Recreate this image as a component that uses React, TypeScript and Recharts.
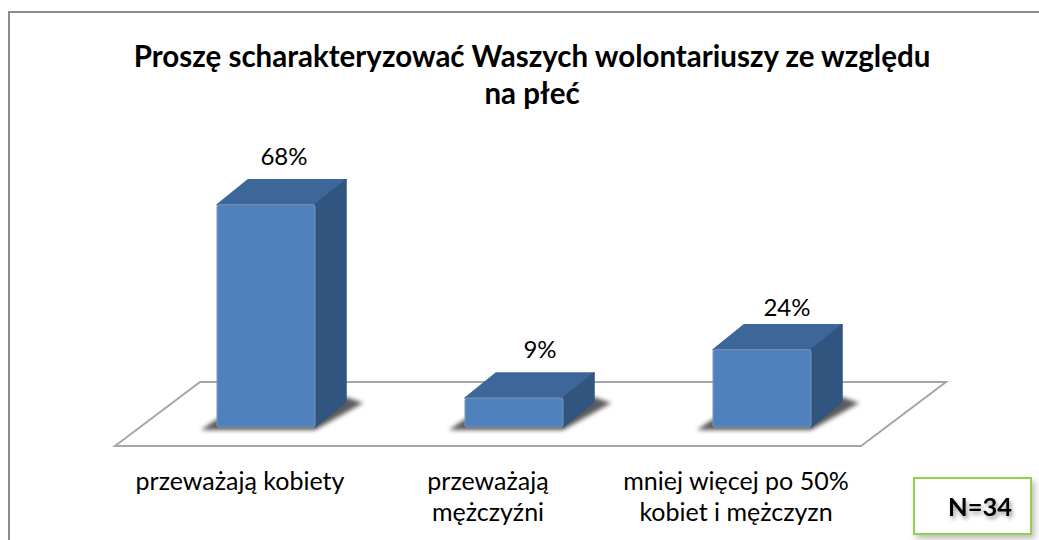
import { BarChart, Bar, XAxis, YAxis, LabelList } from "recharts";

const categories = ["przeważają kobiety", "przeważają\nmężczyźni", "mniej więcej po 50%\nkobiet i mężczyzn"];
// 23, 3 and 8 answers out of 34, the labels show them rounded
const shares = [67.6, 8.8, 23.5];
const titleLines = ["Proszę scharakteryzować Waszych wolontariuszy ze względu", "na płeć"];
const sampleNote = "N=34";

const data = categories.map((name, i) => ({ name, share: shares[i] }));

const FONT = "Lato, Carlito, 'Open Sans', sans-serif";
const DX = 31;
const DY = 25;
// value labels are not placed evenly in the original
const LABEL_SHIFT_X = [18, 26, 25];
const LABEL_SHIFT_Y = [0, 0, 6];

function Bar3D({ x, y, width, height }: any) {
  const r = x + width;
  const b = y + height;
  return (
    <g>
      <path
        d={`M${x - 16} ${b + 3} L${r} ${b + 3} L${r + DX + 17} ${b - DY + 1} L${r + DX} ${b - DY - 5} L${r} ${b - 10} L${x} ${b - 8} Z`}
        fill="#333"
        opacity={0.8}
        filter="url(#floorBlur)"
      />
      <path
        d={`M${x} ${y} L${x + DX} ${y - DY} L${r + DX} ${y - DY} L${r} ${y} Z`}
        fill="#3e6799"
        stroke="#3e6799"
        strokeWidth={1.5}
        strokeLinejoin="round"
      />
      <path
        d={`M${r} ${y} L${r + DX} ${y - DY} L${r + DX} ${b - DY} L${r} ${b} Z`}
        fill="#31557f"
        stroke="#31557f"
        strokeWidth={1.5}
        strokeLinejoin="round"
      />
      <rect x={x} y={y} width={width} height={height} rx={2} fill="#4f81bd" stroke="#7f95ae" strokeWidth={1} />
    </g>
  );
}

function CategoryTick({ x, y, payload }: any) {
  const lines = String(payload.value).split("\n");
  return (
    <text textAnchor="middle" fontFamily={FONT} fontSize={25} fill="#000">
      {lines.map((line, i) => (
        <tspan key={i} x={x - 26} y={y + 55 + i * 31}>
          {line}
        </tspan>
      ))}
    </text>
  );
}

function ValueLabel({ x, y, width, value, index }: any) {
  return (
    <text
      x={x + width / 2 + LABEL_SHIFT_X[index]}
      y={y - DY - 15 + LABEL_SHIFT_Y[index]}
      textAnchor="middle"
      fontFamily={FONT}
      fontSize={24}
      fill="#000"
    >
      {Math.round(value)}%
    </text>
  );
}

export default function App() {
  return (
    <div style={{ position: "absolute", left: 0, top: 0, width: 1039, height: 540, background: "#fff", overflow: "hidden" }}>
      <BarChart
        width={1039}
        height={540}
        data={data}
        margin={{ top: 164, right: 153, bottom: 83, left: 142 }}
        barCategoryGap={75}
      >
        <defs>
          <filter id="floorBlur" x="-30%" y="-80%" width="160%" height="260%">
            <feGaussianBlur stdDeviation="2" />
          </filter>
          <filter id="textShadow" x="-20%" y="-30%" width="140%" height="170%">
            <feDropShadow dx="2" dy="3" stdDeviation="2" floodColor="#000" floodOpacity="0.4" />
          </filter>
          <filter id="boxShadow" x="-10%" y="-20%" width="120%" height="140%">
            <feDropShadow dx="3" dy="4" stdDeviation="3" floodColor="#000" floodOpacity="0.25" />
          </filter>
        </defs>
        {/* outer frame: left and top only */}
        <path d="M9 540 L9 12 L1039 12" fill="none" stroke="#8c8c8c" strokeWidth={2} />
        {/* floor of the 3d plot */}
        <path d="M115 446 L200 382 L946 382 L861 446 Z" fill="#fff" stroke="#a6a6a6" strokeWidth={2} />
        <text textAnchor="middle" fontFamily={FONT} fontSize={29.5} fontWeight={700} fill="#000">
          {titleLines.map((line, i) => (
            <tspan key={i} x={532} y={67 + i * 37}>
              {line}
            </tspan>
          ))}
        </text>
        <XAxis dataKey="name" axisLine={false} tickLine={false} interval={0} tick={<CategoryTick />} />
        <YAxis hide domain={[0, 80]} />
        <Bar dataKey="share" isAnimationActive={false} shape={<Bar3D />}>
          <LabelList dataKey="share" content={<ValueLabel />} />
        </Bar>
        <rect x={914} y={478} width={117} height={56} fill="#fff" stroke="#92d050" strokeWidth={2} filter="url(#boxShadow)" />
        <text x={980} y={516} textAnchor="middle" fontFamily={FONT} fontSize={25.5} fontWeight={700} fill="#000" filter="url(#textShadow)">
          {sampleNote}
        </text>
      </BarChart>
    </div>
  );
}
